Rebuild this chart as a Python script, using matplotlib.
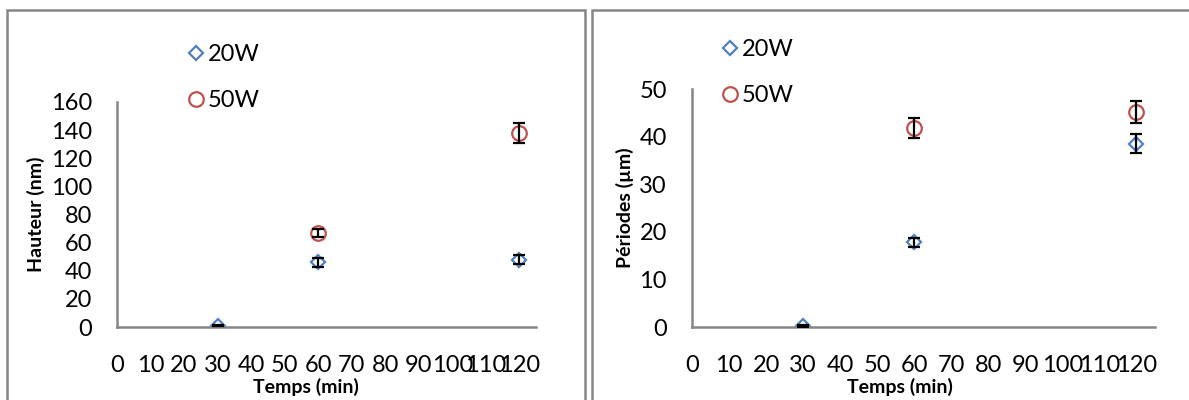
"""
Hauteur et périodes en fonction du temps de traitement (20W / 50W).
"""
import matplotlib
matplotlib.use("Agg")
import matplotlib.pyplot as plt
from matplotlib.patches import Rectangle

plt.rcParams["font.family"] = ["Lato", "DejaVu Sans"]

# hauteur (nm)
t_20w_h = [30, 60, 120]
h_20w = [1, 46, 48]
h_20w_err = [0.5, 3, 3]
t_50w_h = [60, 120]
h_50w = [67, 138]
h_50w_err = [3, 7]

# périodes (µm)
t_20w_p = [30, 60, 120]
p_20w = [0.3, 17.8, 38.5]
p_20w_err = [0.2, 1, 2]
t_50w_p = [60, 120]
p_50w = [41.9, 45.2]
p_50w_err = [2.1, 2.3]

x_ticks = list(range(0, 121, 10))
blue = "#4F81BD"
red = "#C0504D"
grey = "#868686"

W, H = 1189, 400
fig = plt.figure(figsize=(W / 100, H / 100), dpi=100)

# panel frames
for x0, x1 in [(7, 585), (592, 1200)]:
    fig.patches.append(Rectangle((x0 / W, -0.1), (x1 - x0) / W, 1.1 - 10 / H,
                                 transform=fig.transFigure, fill=False,
                                 edgecolor=grey, linewidth=1.8))


def panel(rect, ylim, yticks, ylabel, s20, s50, legend_xy):
    ax = fig.add_axes(rect)
    (x20, y20, e20), (x50, y50, e50) = s20, s50
    ax.plot(x20, y20, linestyle="none", marker="D", markersize=7.5,
            markerfacecolor="none", markeredgecolor=blue, markeredgewidth=1.6,
            label="20W", zorder=2)
    ax.plot(x50, y50, linestyle="none", marker="o", markersize=10.5,
            markerfacecolor="none", markeredgecolor=red, markeredgewidth=1.6,
            label="50W", zorder=2)
    ax.errorbar(x20, y20, yerr=e20, fmt="none", ecolor="black",
                elinewidth=1.6, capsize=4.5, capthick=1.6, zorder=3)
    ax.errorbar(x50, y50, yerr=e50, fmt="none", ecolor="black",
                elinewidth=1.6, capsize=4.5, capthick=1.6, zorder=3)
    ax.set_xlim(0, 125)
    ax.set_ylim(*ylim)
    ax.set_xticks(x_ticks)
    ax.set_yticks(yticks)
    ax.tick_params(length=0, labelsize=17)
    ax.tick_params(axis="y", pad=18)
    ax.tick_params(axis="x", pad=20)
    for side in ("top", "right"):
        ax.spines[side].set_visible(False)
    for side in ("left", "bottom"):
        ax.spines[side].set_color(grey)
        ax.spines[side].set_linewidth(1.8)
    ax.set_xlabel("Temps (min)", fontsize=14, fontweight="bold")
    ax.set_ylabel(ylabel, fontsize=14, fontweight="bold", labelpad=4)
    # label top ~51 px below the x axis
    ax.xaxis.set_label_coords(0.45, -51 / (rect[3] * H))
    ax.patch.set_alpha(0)
    ax.legend(loc="upper left", bbox_to_anchor=legend_xy,
              bbox_transform=fig.transFigure, frameon=False, fontsize=17,
              handlelength=0.6, handletextpad=0.2, labelspacing=1.05,
              borderaxespad=0, borderpad=0)
    return ax


panel([117 / W, 1 - 327 / H, 419 / W, 225 / H], (0, 160),
      range(0, 161, 20), "Hauteur (nm)",
      (t_20w_h, h_20w, h_20w_err), (t_50w_h, h_50w, h_50w_err),
      (189 / W, 1 - 44 / H))
panel([692 / W, 1 - 327 / H, 463 / W, 238 / H], (0, 50),
      range(0, 51, 10), "Périodes (µm)",
      (t_20w_p, p_20w, p_20w_err), (t_50w_p, p_50w, p_50w_err),
      (723 / W, 1 - 39 / H))

fig.savefig("out.png", dpi=100)
